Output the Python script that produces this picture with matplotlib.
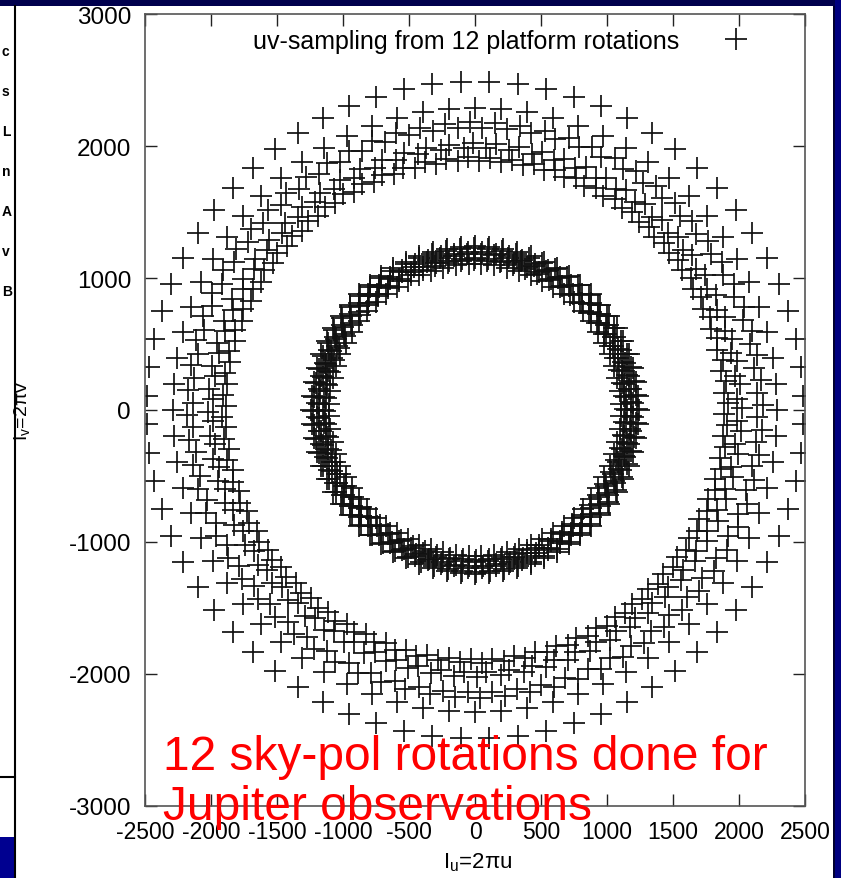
import numpy as np
import matplotlib
matplotlib.use("Agg")
import matplotlib.pyplot as plt
from matplotlib.patches import Rectangle
from matplotlib.lines import Line2D

plt.rcParams['font.family'] = ['Liberation Sans', 'DejaVu Sans']
plt.rcParams['mathtext.fontset'] = 'custom'
plt.rcParams['mathtext.rm'] = 'Liberation Sans'
plt.rcParams['mathtext.it'] = 'Liberation Sans:italic'

# ---- data: uv tracks (radius of each track and angular phase of its samples) ----
angle_step_deg = 5.0
outer_radii = [2490, 2290, 2180, 2140, 2020, 1985, 1915, 1890]
outer_phase_deg = [2.5, 0.0, 1.0, 3.5, 0.5, 2.5, 1.5, 4.0]
inner_radii = [1240, 1225, 1195, 1180, 1150, 1135, 1105]
inner_phase_deg = [0.0, 0.4, 2.5, 2.9, 0.0, 0.4, 2.5]

xticks = [-2500, -2000, -1500, -1000, -500, 0, 500, 1000, 1500, 2000, 2500]
yticks = [-3000, -2000, -1000, 0, 1000, 2000, 3000]
legend_label = "uv-sampling from 12 platform rotations"
xlabel = r"I$_{\mathrm{u}}$=2πu"
ylabel = r"I$_{\mathrm{v}}$=2πv"
note_lines = ["12 sky-pol rotations done for", "Jupiter observations"]
left_fragments = ["c", "s", "L", "n", "A", "v", "B"]

W, H = 841, 879
fig = plt.figure(figsize=(W / 100, H / 100), dpi=100)
fig.patch.set_facecolor('white')

def px_rect(x0, y0, x1, y1, color):
    fig.add_artist(Rectangle((x0 / W, 1 - y1 / H), (x1 - x0) / W, (y1 - y0) / H,
                             transform=fig.transFigure, facecolor=color,
                             edgecolor='none', zorder=0))

# slide decorations
px_rect(0, 0, W, 7, '#00004d')
px_rect(835, 0, W, H, '#000080')
px_rect(833, 7, 835, H, '#000030')
px_rect(0, 838, 14, H, '#000090')
fig.add_artist(Line2D([14.5 / W, 14.5 / W], [0, 1 - 7 / H], transform=fig.transFigure,
                      color='black', lw=1.5))
fig.add_artist(Line2D([0, 14.5 / W], [1 - 778 / H, 1 - 778 / H], transform=fig.transFigure,
                      color='black', lw=1.5))
for i, ch in enumerate(left_fragments):
    fig.text(2 / W, 1 - (52 + i * 40) / H, ch, fontsize=10, fontweight='bold',
             ha='left', va='center', color='black')

ax = fig.add_axes([145 / W, 1 - 807 / H, 660 / W, 792 / H])

def ring_points(radii, phases):
    xs, ys = [], []
    for r, ph in zip(radii, phases):
        th = np.deg2rad(np.arange(0, 360, angle_step_deg) + ph)
        xs.append(r * np.cos(th))
        ys.append(r * np.sin(th))
    return np.concatenate(xs), np.concatenate(ys)

ox, oy = ring_points(outer_radii, outer_phase_deg)
ix, iy = ring_points(inner_radii, inner_phase_deg)

ax.plot(np.concatenate([ox, ix]), np.concatenate([oy, iy]), linestyle='none',
        marker='+', markersize=16.5, markeredgewidth=1.25, color='#111111',
        label=legend_label)

ax.set_xlim(-2500, 2500)
ax.set_ylim(-3000, 3000)
ax.set_xticks(xticks)
ax.set_yticks(yticks)
ax.set_xticklabels([str(t) for t in xticks])
ax.set_yticklabels([str(t) for t in yticks])
ax.tick_params(direction='in', length=8.6, width=1.0, colors='#222222',
               labelcolor='black', top=True, right=True, labelsize=17.5, pad=10)
ax.tick_params(axis='x', labelsize=16.5)
for sp in ax.spines.values():
    sp.set_color('#555555')
    sp.set_linewidth(1.2)

ax.set_xlabel(xlabel, fontsize=16)
ax.xaxis.set_label_coords(0.5045, -0.070)
ax.xaxis.label.set_va('center')
ax.set_ylabel(ylabel, fontsize=14)
ax.yaxis.set_label_coords(-0.186, 0.50)
ax.yaxis.label.set_va('center')

ax.legend(loc='upper right', bbox_to_anchor=(0.930, 0.981), markerfirst=False,
          frameon=False, fontsize=18, handlelength=1.8, handletextpad=1.4,
          borderpad=0, borderaxespad=0)

fig.text(163 / W, 1 - 770 / H, note_lines[0], color='red', fontsize=34.5,
         ha='left', va='baseline')
fig.text(163 / W, 1 - 820 / H, note_lines[1], color='red', fontsize=34.5,
         ha='left', va='baseline')

fig.savefig('out.png', dpi=100)
